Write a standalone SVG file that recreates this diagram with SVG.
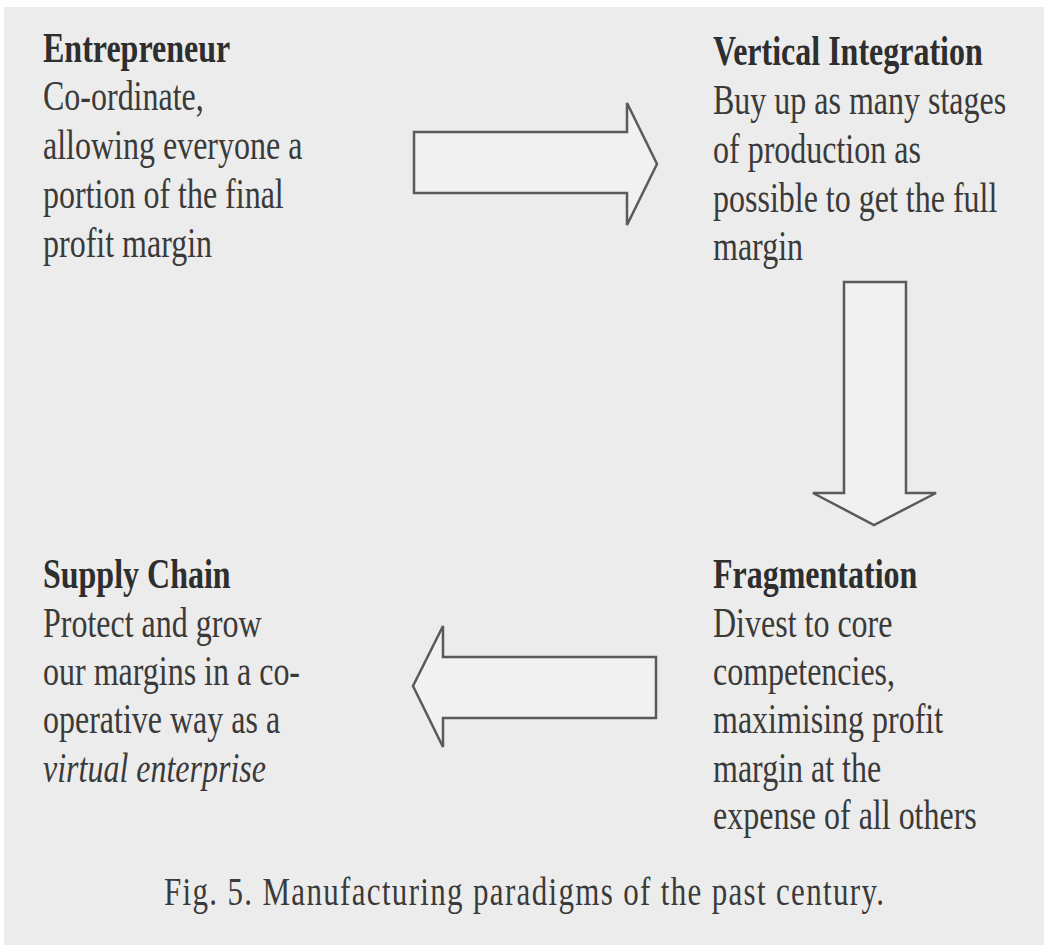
<svg xmlns="http://www.w3.org/2000/svg" width="1049" height="950" viewBox="0 0 1049 950">
<style>
  .h { font-family: "Liberation Serif", "Times New Roman", serif; font-size: 32px; font-weight: bold; fill: #2e2e2e; }
  .t { font-family: "Liberation Serif", "Times New Roman", serif; font-size: 32px; fill: #3a3a3a; }
  .i { font-style: italic; }
  .cap { font-family: "Liberation Serif", "Times New Roman", serif; font-size: 31px; fill: #3a3a3a; }
  .arrow { fill: #f1f1f1; stroke: #5a5a5a; stroke-width: 2.5; stroke-linejoin: miter; }
</style>
<rect x="0" y="0" width="1049" height="950" fill="#ffffff"/>
<rect x="4" y="7" width="1040" height="938" fill="#ececec"/>

<g id="connectors">
  <polygon class="arrow" points="414,132 627,132 627,103 657,164 627,225 627,193 414,193"/>
  <polygon class="arrow" points="844,282 906,282 906,493 936,493 874,525 813,493 844,493"/>
  <polygon class="arrow" points="656,657 443,657 443,626 413,686 443,747 443,718 656,718"/>
</g>

<g id="entrepreneur">
  <text class="h" transform="translate(43,62) scale(1,1.35)">Entrepreneur</text>
  <text class="t" transform="translate(43,110) scale(1,1.35)">Co-ordinate,</text>
  <text class="t" transform="translate(43,159) scale(1,1.35)">allowing everyone a</text>
  <text class="t" transform="translate(43,208) scale(1,1.35)">portion of the final</text>
  <text class="t" transform="translate(43,257) scale(1,1.35)">profit margin</text>
</g>

<g id="vertical-integration">
  <text class="h" transform="translate(713,65) scale(1,1.35)">Vertical Integration</text>
  <text class="t" transform="translate(713,114) scale(1,1.35)">Buy up as many stages</text>
  <text class="t" transform="translate(713,163) scale(1,1.35)">of production as</text>
  <text class="t" transform="translate(713,212) scale(1,1.35)">possible to get the full</text>
  <text class="t" transform="translate(713,260) scale(1,1.35)">margin</text>
</g>

<g id="supply-chain">
  <text class="h" transform="translate(43,588) scale(1,1.35)">Supply Chain</text>
  <text class="t" transform="translate(43,637) scale(1,1.35)">Protect and grow</text>
  <text class="t" transform="translate(43,685) scale(1,1.35)">our margins in a co-</text>
  <text class="t" transform="translate(43,733) scale(1,1.35)">operative way as a</text>
  <text class="t i" transform="translate(43,782) scale(1,1.35)">virtual enterprise</text>
</g>

<g id="fragmentation">
  <text class="h" transform="translate(713,588) scale(1,1.35)">Fragmentation</text>
  <text class="t" transform="translate(713,637) scale(1,1.35)">Divest to core</text>
  <text class="t" transform="translate(713,685) scale(1,1.35)">competencies,</text>
  <text class="t" transform="translate(713,733) scale(1,1.35)">maximising profit</text>
  <text class="t" transform="translate(713,782) scale(1,1.35)">margin at the</text>
  <text class="t" transform="translate(713,829) scale(1,1.35)">expense of all others</text>
</g>

<g id="caption">
  <text class="cap" transform="translate(164,905) scale(1,1.3)" textLength="720">Fig. 5. Manufacturing paradigms of the past century.</text>
</g>
</svg>
